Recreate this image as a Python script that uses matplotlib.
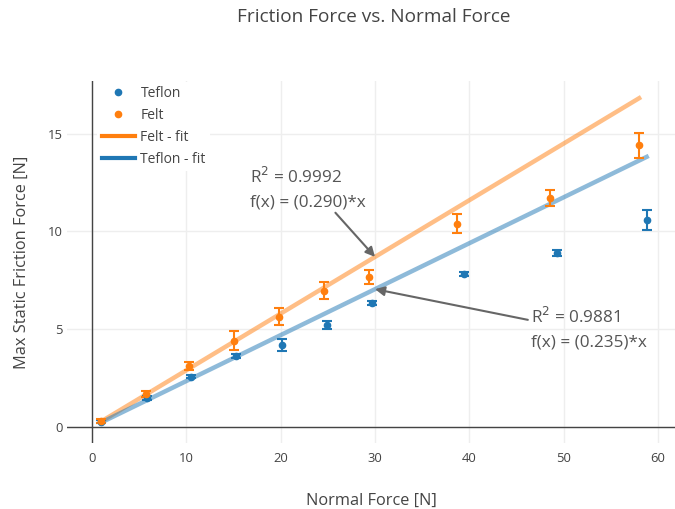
import matplotlib.pyplot as plt
from matplotlib.lines import Line2D

plt.rcParams['font.family'] = ['Open Sans', 'DejaVu Sans']

# Data
teflon_x = [0.9, 5.8, 10.5, 15.3, 20.1, 24.9, 29.7, 39.4, 49.3, 58.8]
teflon_y = [0.27, 1.5, 2.58, 3.64, 4.2, 5.22, 6.36, 7.83, 8.92, 10.6]
teflon_err = [0.08, 0.1, 0.1, 0.1, 0.3, 0.2, 0.1, 0.12, 0.15, 0.5]

felt_x = [0.9, 5.7, 10.3, 15.0, 19.8, 24.6, 29.4, 38.7, 48.5, 58.0]
felt_y = [0.32, 1.69, 3.12, 4.42, 5.65, 6.98, 7.67, 10.39, 11.71, 14.4]
felt_err = [0.1, 0.15, 0.2, 0.5, 0.45, 0.42, 0.38, 0.48, 0.42, 0.62]

felt_slope = 0.290
teflon_slope = 0.235

blue = '#1f77b4'
orange = '#ff7f0e'
text_c = '#444444'

fig = plt.figure(figsize=(6.75, 5.09), dpi=100)
ax = fig.add_axes([0.0993, 0.1297, 0.9007, 0.7112])

ax.errorbar(teflon_x, teflon_y, yerr=teflon_err, fmt='o', color=blue, ms=4.5,
            capsize=3.5, elinewidth=1.5, capthick=1.5, zorder=4)
ax.errorbar(felt_x, felt_y, yerr=felt_err, fmt='o', color=orange, ms=4.5,
            capsize=3.5, elinewidth=1.5, capthick=1.5, zorder=4)

fx = [felt_x[0], felt_x[-1]]
tx = [teflon_x[0], teflon_x[-1]]
ax.plot(fx, [felt_slope * v for v in fx], color=orange, lw=3.2, alpha=0.5, zorder=3)
ax.plot(tx, [teflon_slope * v for v in tx], color=blue, lw=3.2, alpha=0.5, zorder=3)

ax.set_xlim(-2.65, 61.8)
ax.set_ylim(-0.82, 17.7)
ax.set_xticks([0, 10, 20, 30, 40, 50, 60])
ax.set_yticks([0, 5, 10, 15])
ax.grid(color='#eeeeee', lw=1)
ax.axhline(0, color='#444444', lw=1, zorder=1)
ax.axvline(0, color='#444444', lw=1, zorder=1)
ax.set_axisbelow(True)
for s in ax.spines.values():
    s.set_visible(False)
ax.tick_params(length=0, labelsize=9.4, colors=text_c)
ax.tick_params(axis='x', pad=6.5)
ax.tick_params(axis='y', pad=3)

ax.set_xlabel('Normal Force [N]', fontsize=11.8, color=text_c, labelpad=20)
ax.set_ylabel('Max Static Friction Force [N]', fontsize=11.8, color=text_c, labelpad=13)
fig.text(0.554, 0.966, 'Friction Force vs. Normal Force', ha='center', va='center',
         fontsize=13.7, color=text_c)

# annotations
ax.annotate('', xy=(30, felt_slope * 30), xytext=(25.8, 10.96),
            arrowprops=dict(arrowstyle='-|>', color='#666666', lw=1.5,
                            mutation_scale=14, shrinkA=0, shrinkB=0), zorder=5)
ax.text(16.7, 13.3, 'R$^2$ = 0.9992\nf(x) = (0.290)*x', ha='left', va='top',
        fontsize=12.3, color='#555555', linespacing=1.6)
ax.annotate('', xy=(30, teflon_slope * 30), xytext=(46.2, 5.48),
            arrowprops=dict(arrowstyle='-|>', color='#666666', lw=1.5,
                            mutation_scale=14, shrinkA=0, shrinkB=0), zorder=5)
ax.text(46.5, 6.15, 'R$^2$ = 0.9881\nf(x) = (0.235)*x', ha='left', va='top',
        fontsize=12.3, color='#555555', linespacing=1.6)

handles = [
    Line2D([], [], ls='none', marker='o', ms=4.5, color=blue),
    Line2D([], [], ls='none', marker='o', ms=4.5, color=orange),
    Line2D([], [], color=orange, lw=3),
    Line2D([], [], color=blue, lw=3),
]
labels = ['Teflon', 'Felt', 'Felt - fit', 'Teflon - fit']
leg = ax.legend(handles, labels, loc='upper left', bbox_to_anchor=(0.043, 1.01),
                frameon=True, fontsize=10, handlelength=2.4, handletextpad=0.4,
                labelspacing=0.5, borderaxespad=0.3, borderpad=0.3)
leg.get_frame().set_edgecolor('none')
leg.get_frame().set_facecolor('white')
leg.get_frame().set_alpha(1)
leg.get_frame().set_boxstyle('square', pad=0)
for t in leg.get_texts():
    t.set_color(text_c)

fig.savefig('out.png', dpi=100)
